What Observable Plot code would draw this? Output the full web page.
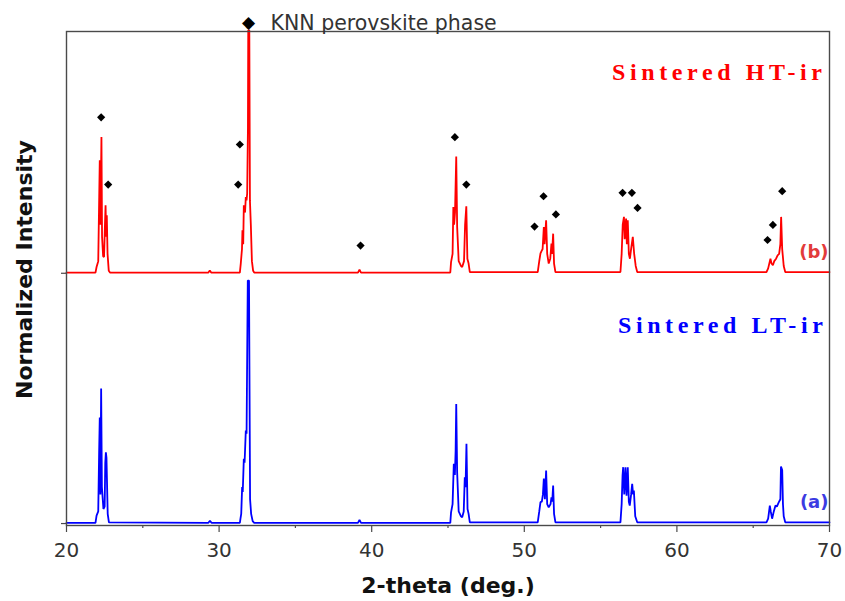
<!DOCTYPE html>
<html>
<head>
<meta charset="utf-8">
<script src="https://cdn.jsdelivr.net/npm/d3@7"></script>
<script src="https://cdn.jsdelivr.net/npm/@observablehq/plot@0.6"></script>
<style>
  html, body { margin: 0; padding: 0; background: white; }
  #chart { width: 845px; height: 601px; }
</style>
</head>
<body>
<div id="chart"></div>
<script>
// ---- Data ----
// Sample (b): Sintered HT-ir (red), intensity relative to its own baseline
const redTheta = [20.0,21.9,21.97,22.08,22.14,22.18,22.22,22.26,22.29,22.33,22.40,22.46,22.52,22.56,22.60,22.64,22.69,22.77,22.85,
  29.3,29.39,29.48,31.36,31.42,31.5,31.53,31.58,31.62,31.7,31.75,31.8,31.84,31.89,31.91,31.98,32.02,32.08,32.15,32.23,32.3,
  39.1,39.2,39.3,45.15,45.2,45.3,45.35,45.4,45.46,45.54,45.6,45.7,45.85,45.93,46.05,46.12,46.2,46.27,46.35,46.43,
  50.88,50.98,51.06,51.12,51.2,51.28,51.33,51.43,51.5,51.6,51.7,51.78,51.82,51.89,51.95,52.04,
  56.3,56.38,56.45,56.53,56.58,56.67,56.72,56.78,56.85,56.92,57.0,57.11,57.2,57.3,57.4,
  65.87,65.98,66.13,66.2,66.29,66.38,66.5,66.6,66.7,66.78,66.83,66.9,67.0,67.1,70.0];
const redIntensity = [0.3,0.3,2.6,5,30,46.5,20,40,56.1,15,7,6.7,20,28,15,23.9,8,1,0.3,
  0.3,1.2,0.3,0.3,4,10,17.7,12,28,25,31.4,30,32.9,60,100,100,30,20,5,1,0.3,
  0.3,1.5,0.3,0.3,4.6,8,27.3,20,25,48.1,19,5,3,2.6,5,20,27.6,6,4,0.5,
  0.5,5,8.2,9,10,19,12,21.8,8,4,6,12.2,8,16.3,4,0.5,
  0.5,8,20,23.2,14,22.5,12,21.8,8,6,10,15,8,3,0.5,
  0.5,2,6,4,3.3,5,6,7.4,8,12,23.2,10,3,0.5,0.5];

// Sample (a): Sintered LT-ir (blue)
const blueTheta = [20.0,21.9,21.97,22.08,22.14,22.18,22.22,22.27,22.32,22.42,22.5,22.54,22.58,22.62,22.7,22.78,
  29.3,29.4,29.5,31.36,31.4,31.45,31.51,31.55,31.62,31.67,31.75,31.8,31.88,31.96,32.03,32.1,32.2,32.3,
  39.1,39.2,39.3,45.15,45.2,45.3,45.38,45.45,45.5,45.54,45.6,45.7,45.85,45.93,46.03,46.1,46.15,46.21,46.28,46.35,46.43,
  50.88,50.98,51.06,51.15,51.22,51.28,51.35,51.43,51.5,51.6,51.72,51.78,51.83,51.89,51.95,52.04,
  56.3,56.38,56.44,56.48,56.55,56.63,56.7,56.78,56.85,56.91,57.0,57.07,57.13,57.18,57.27,57.4,
  65.87,65.98,66.09,66.15,66.24,66.35,66.46,66.55,66.68,66.78,66.82,66.9,66.95,67.0,67.1,70.0];
const blueIntensity = [0.3,0.3,3.3,5,30,43.6,12,55.6,15,6,7,25,29.3,27,4,0.5,
  0.3,1.2,0.3,0.3,2,4,15,13,26.7,25,38.3,37,100,100,10,4,1,0.3,
  0.3,1.5,0.3,0.3,4.6,8,24.6,20,30,49.2,21,5,3,2.6,5,19,15,32.8,6,4,0.5,
  0.5,5,8.8,9,12,18.5,10,21.8,8,6.7,8,10.8,9,15.6,4,0.5,
  0.5,8,20,23.2,12,23.2,11.5,23.2,9,7.4,12,16.3,12,13.6,3,0.5,
  0.5,2,7.4,5,2,5,7.4,7,8.8,10,23.5,22,8,3,0.5,0.5];

// KNN perovskite phase markers (relative to the HT-ir baseline)
const markerTheta = [22.27,22.73,31.36,31.25,39.27,45.45,46.2,50.67,51.26,52.07,56.44,57.05,57.42,65.94,66.29,66.9];
const markerIntensity = [64.2,36.5,53,36.5,11.4,56,36.5,19.2,31.7,24.2,33.1,33.1,26.9,13.7,19.9,33.8];

const offsetHT = 103;             // vertical offset of curve (b)
const xTicks = [20, 30, 40, 50, 60, 70];
const xMinorTicks = [25, 35, 45, 55, 65];
const yTicks = [0, offsetHT];

const redData = redTheta.map((t, i) => ({t, v: offsetHT + redIntensity[i]}));
const blueData = blueTheta.map((t, i) => ({t, v: blueIntensity[i]}));
const markers = markerTheta.map((t, i) => ({t, v: offsetHT + markerIntensity[i]}));

const RED = "#ff0000", BLUE = "#0000ff", AXIS = "#4a4a4a";

const chart = Plot.plot({
  width: 845,
  height: 601,
  marginLeft: 66,
  marginRight: 16,
  marginTop: 31,
  marginBottom: 76,
  style: {fontFamily: "DejaVu Sans", fontSize: "20px", background: "white", overflow: "visible"},
  x: {domain: [20, 70]},
  y: {domain: [-0.8, 202.5]},
  marks: [
    Plot.axisX({ticks: xMinorTicks, tickSize: 3, tickFormat: () => "", stroke: AXIS, strokeWidth: 1.2, label: null}),
    Plot.axisX({ticks: xTicks, tickSize: 7, tickPadding: 10, fontSize: 20, fill: "#333", stroke: AXIS, strokeWidth: 1.2, label: null}),
    Plot.axisY({ticks: yTicks, tickSize: 5, tickFormat: () => "", stroke: AXIS, strokeWidth: 1.2, label: null}),
    Plot.line(blueData, {x: "t", y: "v", stroke: BLUE, strokeWidth: 1.8, strokeLinejoin: "miter", curve: "linear"}),
    Plot.line(redData, {x: "t", y: "v", stroke: RED, strokeWidth: 1.8, strokeLinejoin: "miter", curve: "linear"}),
    Plot.frame({stroke: AXIS, strokeWidth: 1.4}),
    Plot.dot(markers, {x: "t", y: "v", symbol: "diamond2", r: 3.7, fill: "black", stroke: "none"}),
    // legend
    Plot.text(["\u25C6"], {frameAnchor: "top-left", dx: 182, dy: -9, fontSize: 17, fill: "black", textAnchor: "middle", lineAnchor: "middle"}),
    Plot.text(["KNN perovskite phase"], {frameAnchor: "top-left", dx: 204, dy: -8, fontSize: 20.5, fill: "#333", textAnchor: "start", lineAnchor: "middle"}),
    // sample labels
    Plot.text(["Sintered HT-ir"], {frameAnchor: "top-right", dx: -3, dy: 41, fontSize: 24, fontWeight: "bold", fontFamily: "Liberation Serif", fill: RED, textAnchor: "end", lineAnchor: "middle"}),
    Plot.text(["Sintered LT-ir"], {frameAnchor: "top-right", dx: -2, dy: 294, fontSize: 24, fontWeight: "bold", fontFamily: "Liberation Serif", fill: BLUE, textAnchor: "end", lineAnchor: "middle"}),
    Plot.text(["(b)"], {frameAnchor: "top-right", dx: -1, dy: 221, fontSize: 18, fontWeight: "bold", fill: "#e23b3b", textAnchor: "end", lineAnchor: "middle"}),
    Plot.text(["(a)"], {frameAnchor: "top-right", dx: -1, dy: 471, fontSize: 18, fontWeight: "bold", fill: "#3b3be2", textAnchor: "end", lineAnchor: "middle"}),
    // axis titles
    Plot.text(["2-theta (deg.)"], {frameAnchor: "bottom", dy: 60, fontSize: 22, fontWeight: "bold", fill: "#111", textAnchor: "middle", lineAnchor: "middle"}),
    Plot.text(["Normalized Intensity"], {frameAnchor: "left", dx: -42, dy: -9, rotate: -90, fontSize: 22, fontWeight: "bold", fill: "#111", textAnchor: "middle", lineAnchor: "middle"})
  ]
});
// letter spacing on the serif sample labels
d3.select(chart).selectAll("text").filter(function() { return /Sintered/.test(this.textContent); })
  .style("letter-spacing", "4.6px");
document.getElementById("chart").appendChild(chart);
</script>
</body>
</html>
